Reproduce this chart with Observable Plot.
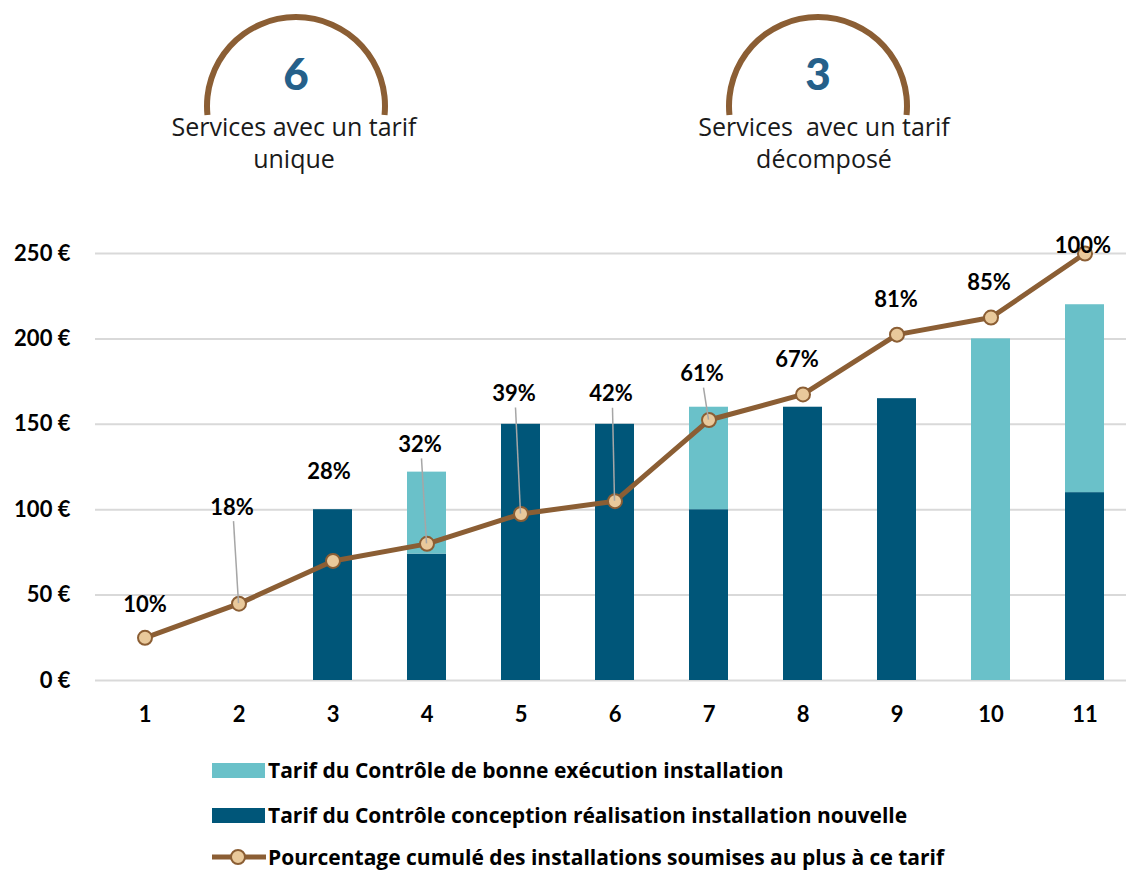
<!DOCTYPE html>
<html><head><meta charset="utf-8">
<script src="https://cdn.jsdelivr.net/npm/d3@7"></script>
<script src="https://cdn.jsdelivr.net/npm/@observablehq/plot@0.6"></script>
<style>
body{margin:0;background:#fff;font-family:Lato,"Open Sans",sans-serif;}
#wrap{position:relative;width:1126px;height:872px;overflow:hidden;}
#head{position:absolute;left:0;top:0;}
#chart{position:absolute;left:0;top:200px;}
.leg{position:absolute;left:212px;height:26px;display:flex;align-items:center;font-family:"Open Sans",sans-serif;font-weight:700;font-size:21px;color:#000;white-space:nowrap;}
.sw{display:inline-block;width:53px;height:15px;margin-right:3px;}
</style></head><body><div id="wrap">
<svg id="head" width="1126" height="200"></svg>
<div id="chart"></div>
<div id="legend"></div>
</div>
<script>
// ---- data ----
const categories = ["1","2","3","4","5","6","7","8","9","10","11"];
const conception = [0, 0, 100, 74, 150, 150, 100, 160, 165, 0, 110];
const execution  = [0, 0, 0, 48, 0, 0, 60, 0, 0, 200, 110];
const cumulPct   = [10, 18, 28, 32, 39, 42, 61, 67, 81, 85, 100];
const yTicks = [0, 50, 100, 150, 200, 250];
const headerCounts = ["6", "3"];
const headerLines = [["Services avec un tarif", "unique"], ["Services  avec un tarif", "décomposé"]];
const legendLabels = [
  "Tarif du Contrôle de bonne exécution installation",
  "Tarif du Contrôle conception réalisation installation nouvelle",
  "Pourcentage cumulé des installations soumises au plus à ce tarif"
];

// ---- styles ----
const cLight = "#6AC1C9", cDark = "#005679", cBrown = "#8B5E34", cMarker = "#E9C99B", cCount = "#25608A";
const euroMax = 250; // secondary axis: 100% ↔ 250 €

// header
const head = d3.select("#head");
const centers = [296, 818];
headerCounts.forEach((c, i) => {
  const cx = centers[i], cy = 104, r = 89;
  const a = Math.asin(9 / r);
  head.append("path").attr("d", d3.arc().innerRadius(r-3).outerRadius(r+3).startAngle(-Math.PI/2 - a).endAngle(Math.PI/2 + a)())
    .attr("transform", `translate(${cx},${cy + 2})`).attr("fill", cBrown);
  head.append("text").attr("x", cx).attr("y", 90).attr("text-anchor", "middle")
    .attr("font-size", 44).attr("font-weight", 900).attr("fill", cCount).attr("font-family", "Lato, sans-serif").text(c);
  headerLines[i].forEach((t, j) => {
    head.append("text").attr("x", cx + (i ? 6 : -2)).attr("y", 136 + j * 32).attr("text-anchor", "middle")
      .attr("font-size", 25).attr("fill", "#1a1a1a").attr("font-family", "'Open Sans', sans-serif")
      .style("white-space", "pre").text(t);
  });
});

// table
const rows = categories.map((c, i) => ({cat: c, conception: conception[i], execution: execution[i], pct: cumulPct[i], y: cumulPct[i] / 100 * euroMax}));
const stacked = [];
rows.forEach(r => {
  stacked.push({cat: r.cat, type: "conception", v: r.conception});
  stacked.push({cat: r.cat, type: "execution", v: r.execution});
});

const labelDx = [0,-7,-4,-7,-7,-4,-7,-6,-1,-2,-2];
const labelDy = [-33,-96,-89,-99,-120,-107,-46,-34,-35,-35,-8];
const leader  = [0,1,0,1,1,1,1,0,0,0,0];

const leaders = (index, scales) => {
  const g = d3.create("svg:g");
  const x = scales.x, y = scales.y;
  const bw = x.bandwidth ? x.bandwidth() : 0;
  rows.forEach((r, i) => {
    if (!leader[i]) return;
    const px = x(r.cat) + bw / 2, py = y(r.y);
    g.append("line").attr("x1", px + labelDx[i] + 2).attr("y1", py + labelDy[i] + 14)
      .attr("x2", px).attr("y2", py).attr("stroke", "#A6A6A6").attr("stroke-width", 1.5);
  });
  return g.node();
};

const chart = Plot.plot({
  width: 1126,
  height: 530,
  marginLeft: 95,
  marginRight: 0,
  marginTop: 53,
  marginBottom: 50,
  style: {fontFamily: "Lato, sans-serif", background: "transparent"},
  x: {type: "band", domain: categories, range: [95, 1134], paddingInner: 0.58, paddingOuter: 0.29, axis: null},
  y: {domain: [0, 250], axis: null},
  color: {domain: ["conception", "execution"], range: [cDark, cLight]},
  marks: [
    Plot.gridY(yTicks, {stroke: "#D9D9D9", strokeOpacity: 1, strokeWidth: 2}),
    Plot.axisY(yTicks, {tickSize: 0, tickPadding: 25, fontSize: 22, fontWeight: 700, fill: "#000", label: null, tickFormat: d => d + "\u00a0€"}),
    Plot.axisX({tickSize: 0, tickPadding: 26, fontSize: 22, fontWeight: 700, fill: "#000", label: null}),
    Plot.barY(stacked, Plot.stackY({x: "cat", y: "v", fill: "type", order: ["conception", "execution"]})),
    Plot.line(rows, {x: "cat", y: "y", stroke: cBrown, strokeWidth: 5}),
    Plot.dot(rows, {x: "cat", y: "y", r: 7, fill: cMarker, stroke: cBrown, strokeWidth: 2}),
    leaders,
    ...rows.map((r, i) => Plot.text([r], {x: "cat", y: "y", text: d => d.pct + "%", dx: labelDx[i], dy: labelDy[i], fontSize: 22, fontWeight: 700, fill: "#000"}))
  ]
});
document.getElementById("chart").appendChild(chart);

// legend
const leg = d3.select("#legend");
const legY = [770, 815, 857];
legendLabels.forEach((t, i) => {
  const item = leg.append("div").attr("class", "leg").style("top", (legY[i] - 13) + "px");
  if (i < 2) {
    item.append("span").attr("class", "sw").style("background", i === 0 ? cLight : cDark);
  } else {
    const s = item.append("svg").attr("width", 56).attr("height", 20);
    s.append("line").attr("x1", 0).attr("x2", 54).attr("y1", 10).attr("y2", 10).attr("stroke", cBrown).attr("stroke-width", 5);
    s.append("circle").attr("cx", 26).attr("cy", 10).attr("r", 7).attr("fill", cMarker).attr("stroke", cBrown).attr("stroke-width", 2);
  }
  item.append("span").text(t);
});
</script>
</body></html>
